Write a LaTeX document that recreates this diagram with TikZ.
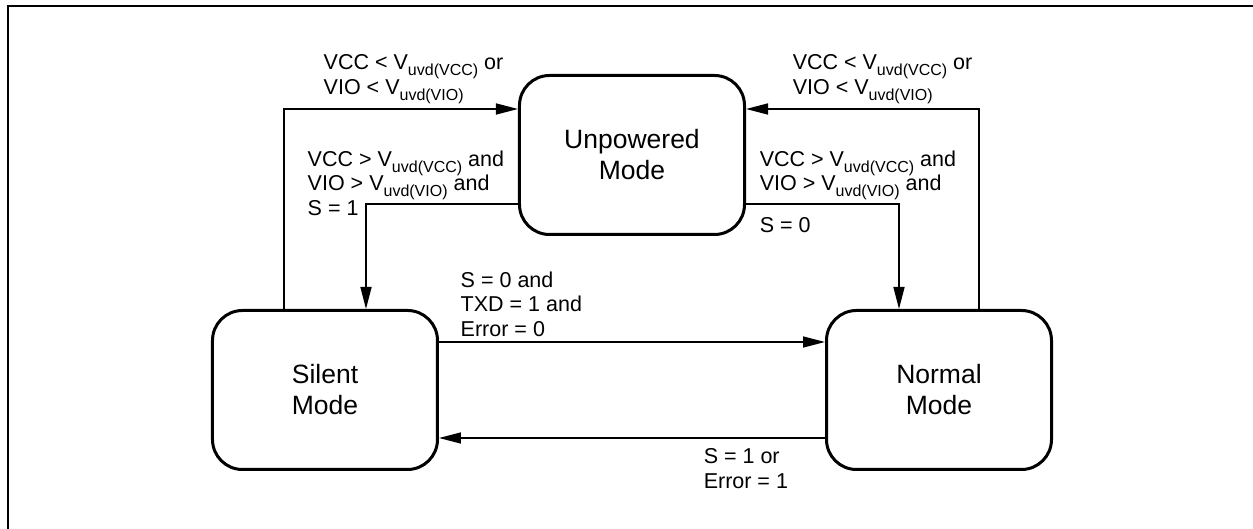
\documentclass[tikz,border=0pt]{standalone}
\usepackage{fontspec}
\setmainfont{Liberation Sans}
\usetikzlibrary{calc}
\usetikzlibrary{positioning}
\usetikzlibrary{arrows.meta}

\newcommand{\uvd}[1]{V\raisebox{-6pt}[0pt][0pt]{\fontsize{16}{16}\selectfont uvd(#1)}}

\begin{document}
\begin{tikzpicture}[>={Triangle[length=22pt,width=11pt]}, line width=1.5pt,               % Filled tips, thin connectors
                        node distance = 235pt and 307pt, on grid,                              % Node placement settings
                        mode/.style = {draw, line width=3pt, rounded corners=30pt, minimum width=225pt,
                                       minimum height=159pt, align=center, font=\fontsize{26.5}{31}\selectfont},
                        cond/.style = {anchor=north west, inner sep=0pt, align=left,
                                       font=\fontsize{21.5}{24.5}\selectfont}]               % Transition labels
        \useasboundingbox (-632pt,155pt) rectangle (621pt,-374pt);
        \draw[line width=2pt] (-624pt,-374pt) -- (-624pt,149pt) -- (621pt,149pt);
        \node[mode] (unpowered) at (0,0) {Unpowered\\Mode};
        \node[mode] (silent) [below left =of unpowered] {Silent\\Mode};
        \node[mode] (normal) [below right =of unpowered] {Normal\\Mode};
        %corners
        \coordinate (upL) at ($(unpowered.west)+(-234pt,46pt)$);
        \coordinate (upR) at ($(unpowered.east)+(233pt,46pt)$);
        \coordinate (dnL) at ($(unpowered.west)+(-152pt,-49pt)$);
        \coordinate (dnR) at ($(unpowered.east)+(153pt,-49pt)$);
        \coordinate (hiM) at ($(silent.center)+(0,48pt)$);
        \coordinate (loM) at ($(silent.center)+(0,-48pt)$);
        %edge:power lost
        \draw[->] (silent.north -| upL) |- (unpowered.west |- upL);
        \draw[->] (normal.north -| upR) |- (unpowered.east |- upR);
        %edge:power up
        \draw[->] (unpowered.west |- dnL) -| (silent.north -| dnL);
        \draw[->] (unpowered.east |- dnR) -| (normal.north -| dnR);
        %edge:silent/normal
        \draw[->] (silent.east |- hiM) -- (normal.west |- hiM);
        \draw[->] (normal.west |- loM) -- (silent.east |- loM);
        %labels
        \node[cond] (lostL) at (-309pt,101pt) {VCC < \uvd{VCC} or\\VIO < \uvd{VIO}};
        \node[cond] (lostR) at (160pt,101pt) {VCC < \uvd{VCC} or\\VIO < \uvd{VIO}};
        \node[cond] (upS) at (-325pt,5pt) {VCC > \uvd{VCC} and\\VIO > \uvd{VIO} and\\S = 1};
        \node[cond] (upN) at (127pt,5pt) {VCC > \uvd{VCC} and\\VIO > \uvd{VIO} and\\[17.5pt]S = 0};
        \node[cond] (toN) at (-172pt,-116pt) {S = 0 and\\TXD = 1 and\\Error = 0};
        \node[cond] (toS) at (71pt,-293pt) {S = 1 or\\Error = 1};
    \end{tikzpicture}
\end{document}
